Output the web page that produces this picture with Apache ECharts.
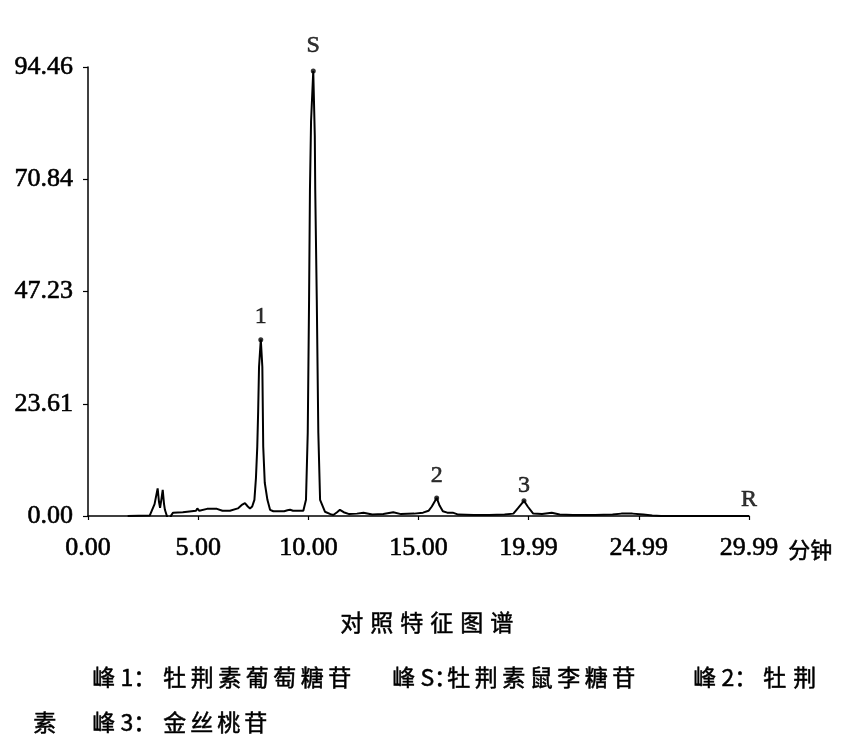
<!DOCTYPE html>
<html><head><meta charset="utf-8">
<script src="https://cdn.jsdelivr.net/npm/echarts@6/dist/echarts.min.js"></script>
<style>html,body{margin:0;padding:0;background:#fff}#c{width:844px;height:743px}</style>
</head><body><div id="c"></div>
<script>
// ---- data ----
const xTicks = [0, 5, 10, 15, 19.99, 24.99, 29.99];
const yTicks = [0, 23.61, 47.23, 70.84, 94.46];
const xUnit = '分钟';
const times = [1.80,2.80,2.89,3.02,3.16,3.22,3.27,3.33,3.39,3.45,3.49,3.60,3.69,3.78,3.86,4.30,4.90,4.96,5.05,5.40,5.85,6.10,6.44,6.80,7.00,7.12,7.25,7.35,7.45,7.50,7.55,7.62,7.68,7.72,7.76,7.84,7.91,7.95,8.02,8.14,8.26,8.41,8.90,9.05,9.17,9.30,9.77,9.89,9.97,10.03,10.07,10.12,10.22,10.29,10.31,10.38,10.45,10.53,10.75,11.00,11.13,11.30,11.43,11.60,11.85,12.20,12.50,12.90,13.40,13.85,14.20,14.80,15.20,15.45,15.60,15.82,15.95,16.10,16.30,16.55,16.80,17.50,18.20,18.90,19.30,19.50,19.78,19.95,20.20,20.60,21.04,21.40,22.00,23.00,23.80,24.20,24.70,25.20,25.60,26.00,29.99];
const signal = [0.0,0.1,0.3,2.5,5.8,3.0,1.7,3.5,5.5,2.5,1.3,-0.3,-1.1,0.2,0.7,0.8,1.1,1.6,1.1,1.5,1.5,1.1,1.1,1.6,2.4,2.7,2.0,1.6,2.0,2.7,3.4,8.0,14.6,22.0,31.4,37.1,31.4,14.6,7.0,3.4,1.3,1.0,1.0,1.2,1.3,1.1,1.1,3.4,17.5,45.5,68.6,83.0,93.6,80.0,68.6,45.5,17.5,3.4,0.9,0.4,0.2,0.8,1.3,0.8,0.4,0.5,0.7,0.3,0.4,0.8,0.4,0.5,0.7,1.1,2.0,3.8,2.2,1.0,0.7,0.7,0.3,0.2,0.2,0.3,0.5,1.6,3.2,2.0,0.5,0.4,0.7,0.3,0.2,0.2,0.3,0.5,0.5,0.3,0.1,0.0,0.0];
const peakNames = ['1', 'S', '2', '3'];
const peakTimes = [7.84, 10.22, 15.82, 19.78];
const peakValues = [37.1, 93.6, 3.8, 3.2];
const endMark = {name: 'R', time: 29.99, value: 0};
const captionTitle = '对照特征图谱';
const captionLine2 = [['峰 1：', '牡荆素葡萄糖苷'], ['峰 S：', '牡荆素鼠李糖苷'], ['峰 2：', '牡荆']];
const captionLine3 = [['', '素'], ['峰 3：', '金丝桃苷']];

// ---- styles / layout ----
const peakLabelDist = [8, 11, 8, 1];
const serif = '"Liberation Serif", "Times New Roman", serif';
const cjk = '"Noto Sans CJK SC", sans-serif';
const heavy = {textBorderColor: '#000', textBorderWidth: 0.6};

const chart = echarts.init(document.getElementById('c'));
const lineData = times.map((t, i) => [t, signal[i]]);
const peakData = peakTimes.map((t, i) => ({
  value: [t, peakValues[i]], name: peakNames[i],
  label: {distance: peakLabelDist[i]}
}));

// caption graphics
const graphics = [];
function runText(str, x, pitch, yc, size) {
  [...str].forEach((ch, i) => graphics.push({
    type: 'text', left: x + i * pitch, top: yc - size / 2,
    style: Object.assign({text: ch, font: size + 'px ' + cjk, fill: '#000'}, {stroke: '#000', lineWidth: 0.5})
  }));
}
function plainText(str, x, yc, size) {
  graphics.push({type: 'text', left: x, top: yc - size / 2,
    style: {text: str, font: size + 'px ' + cjk, fill: '#000', stroke: '#000', lineWidth: 0.5}});
}
runText(captionTitle, 340, 30, 622, 23);
const l2Pos = [[92, 163, 27.5], [392, 447, 27.5], [693, 763, 30]];
captionLine2.forEach((seg, i) => { plainText(seg[0], l2Pos[i][0], 677, 23); runText(seg[1], l2Pos[i][1], l2Pos[i][2], 677, 23); });
const l3Pos = [[33, 33, 27], [92, 163, 27]];
captionLine3.forEach((seg, i) => { if (seg[0]) plainText(seg[0], l3Pos[i][0], 722, 23); runText(seg[1], l3Pos[i][1], l3Pos[i][2], 722, 23); });
graphics.push({type: 'text', left: 788, top: 549 - 11,
  style: {text: xUnit, font: '22px ' + cjk, fill: '#000', stroke: '#000', lineWidth: 0.5}});

chart.setOption({
  animation: false,
  backgroundColor: '#fff',
  grid: {left: 88, right: 95, top: 67, bottom: 227, outerBoundsMode: 'none'},
  xAxis: {
    type: 'value', min: 0, max: 29.99,
    axisLine: {show: true, lineStyle: {color: '#000', width: 1.5}},
    axisTick: {show: true, customValues: xTicks, length: 4, lineStyle: {color: '#000', width: 1.2}},
    axisLabel: Object.assign({customValues: xTicks, formatter: v => v.toFixed(2), color: '#000',
      fontFamily: serif, fontSize: 26, margin: 19}, heavy),
    splitLine: {show: false}
  },
  yAxis: {
    type: 'value', min: 0, max: 94.46,
    axisLine: {show: true, lineStyle: {color: '#000', width: 1.5}},
    axisTick: {show: true, customValues: yTicks, length: 5, lineStyle: {color: '#000', width: 1.2}},
    axisLabel: Object.assign({customValues: yTicks, formatter: v => v.toFixed(2), color: '#000',
      fontFamily: serif, fontSize: 26, margin: 15}, heavy),
    splitLine: {show: false}
  },
  series: [
    {type: 'line', data: lineData, symbol: 'none', smooth: false,
     lineStyle: {color: '#000', width: 2}, z: 3},
    {type: 'scatter', data: peakData, symbol: 'circle', symbolSize: 5,
     itemStyle: {color: '#000'}, z: 4,
     label: Object.assign({show: true, position: 'top', formatter: p => p.name, color: '#000',
       fontFamily: serif, fontSize: 24}, heavy)},
    {type: 'scatter', data: [{value: [endMark.time, endMark.value], name: endMark.name}],
     symbolSize: 0, z: 4,
     label: Object.assign({show: true, position: 'top', distance: 4, formatter: p => p.name, color: '#000',
       fontFamily: serif, fontSize: 24}, heavy)}
  ],
  graphic: graphics
});
</script></body></html>
